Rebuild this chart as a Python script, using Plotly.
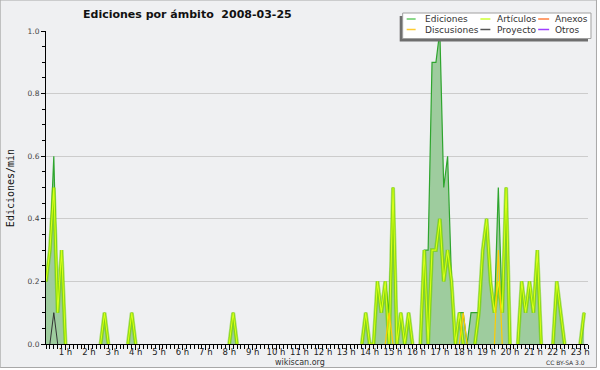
import plotly.graph_objects as go

# ---- data: 10-minute bins, bin 1 = 00:10 ... bin 140 = 23:20 (edits per minute)
bin_index = list(range(1, 141))

ediciones = [
    0.2, 0.3, 0.6, 0.1, 0.3,            # 00:10-00:50
    0, 0, 0, 0, 0, 0,                   # 1 h
    0, 0, 0, 0, 0.1, 0,                 # 2 h
    0, 0, 0, 0, 0, 0.1,                 # 3 h
    0, 0, 0, 0, 0, 0,                   # 4 h
    0, 0, 0, 0, 0, 0,                   # 5 h
    0, 0, 0, 0, 0, 0,                   # 6 h
    0, 0, 0, 0, 0, 0,                   # 7 h
    0, 0.1, 0, 0, 0, 0,                 # 8 h
    0, 0, 0, 0, 0, 0,                   # 9 h
    0, 0, 0, 0, 0, 0,                   # 10 h
    0, 0, 0, 0, 0, 0,                   # 11 h
    0, 0, 0, 0, 0, 0,                   # 12 h
    0, 0, 0, 0, 0, 0.1,                 # 13 h
    0, 0, 0.2, 0.1, 0.2, 0.1,           # 14 h
    0.5, 0, 0.1, 0, 0.1, 0,             # 15 h
    0, 0, 0.3, 0.3, 0.9, 0.9,           # 16 h
    1.0, 0.5, 0.6, 0.2, 0, 0.1,         # 17 h
    0.1, 0, 0.1, 0.1, 0.1, 0.3,         # 18 h
    0.4, 0.2, 0.1, 0.5, 0.1, 0.5,       # 19 h
    0, 0, 0, 0.2, 0.1, 0.2,             # 20 h
    0.1, 0.3, 0, 0, 0, 0,               # 21 h
    0.2, 0.1, 0, 0, 0, 0,               # 22 h
    0, 0.1,                             # 23 h
]

articulos = [
    0.2, 0.3, 0.5, 0.1, 0.3,
    0, 0, 0, 0, 0, 0,
    0, 0, 0, 0, 0.1, 0,
    0, 0, 0, 0, 0, 0.1,
    0, 0, 0, 0, 0, 0,
    0, 0, 0, 0, 0, 0,
    0, 0, 0, 0, 0, 0,
    0, 0, 0, 0, 0, 0,
    0, 0.1, 0, 0, 0, 0,
    0, 0, 0, 0, 0, 0,
    0, 0, 0, 0, 0, 0,
    0, 0, 0, 0, 0, 0,
    0, 0, 0, 0, 0, 0,
    0, 0, 0, 0, 0, 0.1,
    0, 0, 0.2, 0.1, 0.2, 0,
    0.5, 0, 0.1, 0, 0.1, 0,
    0, 0, 0.3, 0, 0.3, 0.3,
    0.4, 0.2, 0.3, 0.2, 0, 0.1,
    0, 0, 0, 0, 0.1, 0.3,
    0.4, 0.2, 0.1, 0.2, 0.1, 0.5,
    0, 0, 0, 0.2, 0.1, 0.2,
    0.1, 0.3, 0, 0, 0, 0,
    0.2, 0.1, 0, 0, 0, 0,
    0, 0.1,
]

discusiones = [
    0, 0, 0, 0, 0,
    0, 0, 0, 0, 0, 0,
    0, 0, 0, 0, 0, 0,
    0, 0, 0, 0, 0, 0,
    0, 0, 0, 0, 0, 0,
    0, 0, 0, 0, 0, 0,
    0, 0, 0, 0, 0, 0,
    0, 0, 0, 0, 0, 0,
    0, 0, 0, 0, 0, 0,
    0, 0, 0, 0, 0, 0,
    0, 0, 0, 0, 0, 0,
    0, 0, 0, 0, 0, 0,
    0, 0, 0, 0, 0, 0,
    0, 0, 0, 0, 0, 0,
    0, 0, 0, 0, 0, 0.1,
    0, 0, 0, 0, 0, 0,
    0, 0, 0, 0, 0, 0,
    0, 0, 0, 0, 0, 0,
    0.1, 0, 0, 0, 0, 0,
    0, 0, 0, 0.3, 0, 0,
    0, 0, 0, 0, 0, 0,
    0, 0, 0, 0, 0, 0,
    0, 0, 0, 0, 0, 0,
    0, 0,
]

proyecto = [
    0, 0, 0.1, 0, 0,
] + [0] * 135

anexos = [0] * 140
otros = [0] * 140

hour_ticks = [1, 2, 3, 4, 5, 6, 7, 8, 9, 10, 11, 12, 13, 14, 15, 16, 17, 18, 19, 20, 21, 22, 23]
hour_labels = ["1 h", "2 h", "3 h", "4 h", "5 h", "6 h", "7 h", "8 h", "9 h", "10 h", "11 h", "12 h",
               "13 h", "14 h", "15 h", "16 h", "17 h", "18 h", "19 h", "20 h", "21 h", "22 h", "23 h"]

legend_names = ["Ediciones", "Discusiones", "Artículos", "Proyecto", "Anexos", "Otros"]
legend_colors = ["#66cc66", "#ffcc33", "#ccff33", "#555555", "#ff7f3f", "#9f3fff"]

title_text = "Ediciones por ámbito&nbsp;&nbsp;2008-03-25"

# ---- helpers
hours = [b / 6 for b in bin_index]

def display(vals):
    out = []
    n = len(vals)
    for i, v in enumerate(vals):
        prev0 = i == 0 or vals[i - 1] == 0
        next0 = i == n - 1 or vals[i + 1] == 0
        out.append(None if (v == 0 and prev0 and next0) else v)
    return out

L, R, T, B = 46, 10, 31, 26
W, H = 600, 370
PW, PH = W - L - R, H - T - B

def px(x):
    return (x - L) / PW

def py(y):
    return (H - B - y) / PH

FONT = "DejaVu Sans"

fig = go.Figure()

fig.add_trace(go.Scatter(
    x=hours, y=display(ediciones), mode="lines", fill="tozeroy",
    line=dict(color="#2ea52e", width=1.2), fillcolor="rgb(158,204,158)",
    name="Ediciones", showlegend=False, hoverinfo="skip"))
fig.add_trace(go.Scatter(
    x=hours, y=display(articulos), mode="lines",
    line=dict(color="rgba(110,205,0,0.55)", width=4),
    name="Artículos", showlegend=False, hoverinfo="skip"))
fig.add_trace(go.Scatter(
    x=hours, y=display(articulos), mode="lines",
    line=dict(color="rgba(130,215,0,0.9)", width=2.4),
    name="Artículos", showlegend=False, hoverinfo="skip"))
fig.add_trace(go.Scatter(
    x=hours, y=display(articulos), mode="lines",
    line=dict(color="#d8ff1a", width=1.1),
    name="Artículos", showlegend=False, hoverinfo="skip"))
fig.add_trace(go.Scatter(
    x=hours, y=display(discusiones), mode="lines",
    line=dict(color="#ffcc00", width=1.2),
    name="Discusiones", showlegend=False, hoverinfo="skip"))
fig.add_trace(go.Scatter(
    x=hours, y=display(anexos), mode="lines",
    line=dict(color="#ff7f3f", width=1),
    name="Anexos", showlegend=False, hoverinfo="skip"))
fig.add_trace(go.Scatter(
    x=hours, y=display(otros), mode="lines",
    line=dict(color="#9f3fff", width=1),
    name="Otros", showlegend=False, hoverinfo="skip"))
fig.add_trace(go.Scatter(
    x=hours, y=display(proyecto), mode="lines",
    line=dict(color="#333333", width=1),
    name="Proyecto", showlegend=False, hoverinfo="skip"))

shapes = []
# outer frame
shapes.append(dict(type="rect", xref="paper", yref="paper", layer="below",
                   x0=px(0), x1=px(598.5), y0=py(367.5), y1=py(0),
                   fillcolor="#eff0f2", line=dict(color="#a8a8a8", width=1)))
# legend shadow and box
shapes.append(dict(type="rect", xref="paper", yref="paper", layer="above",
                   x0=px(401), x1=px(590), y0=py(41.5), y1=py(16),
                   fillcolor="#6e6e6e", line=dict(width=0)))
shapes.append(dict(type="rect", xref="paper", yref="paper", layer="above",
                   x0=px(404), x1=px(593), y0=py(38.5), y1=py(13),
                   fillcolor="#ffffff", line=dict(color="#a0a0a0", width=1)))

annotations = []
col_line = [(408, 417), (482, 492), (540, 551)]
col_text = [424, 497, 555]
row_y = [19, 29.5]
for k, (name, color) in enumerate(zip(legend_names, legend_colors)):
    c, r = k // 2, k % 2
    x0, x1 = col_line[c]
    shapes.append(dict(type="line", xref="paper", yref="paper", layer="above",
                       x0=px(x0), x1=px(x1), y0=py(row_y[r]), y1=py(row_y[r]),
                       line=dict(color=color, width=1.5)))
    annotations.append(dict(xref="paper", yref="paper", x=px(col_text[c]), y=py(row_y[r]),
                            text=name, showarrow=False, xanchor="left", yanchor="middle",
                            font=dict(family=FONT, size=9, color="#333333")))

annotations.append(dict(xref="paper", yref="paper", x=px(188), y=py(14), text=title_text,
                        showarrow=False, xanchor="center", yanchor="middle",
                        font=dict(family=FONT, size=11, color="#111111", weight="bold")))
annotations.append(dict(xref="paper", yref="paper", x=px(10), y=py(188), text="Ediciones/min",
                        showarrow=False, textangle=-90, xanchor="center", yanchor="middle",
                        font=dict(family="DejaVu Sans Mono", size=10, color="#111111")))
annotations.append(dict(xref="paper", yref="paper", x=px(301), y=py(362), text="wikiscan.org",
                        showarrow=False, xanchor="center", yanchor="middle",
                        font=dict(family=FONT, size=8, color="#333333")))
annotations.append(dict(xref="paper", yref="paper", x=px(589), y=py(362), text="CC BY-SA 3.0",
                        showarrow=False, xanchor="right", yanchor="middle",
                        font=dict(family=FONT, size=6, color="#333333")))

fig.update_layout(
    width=W, height=H, margin=dict(l=L, r=R, t=T, b=B),
    paper_bgcolor="#ffffff", plot_bgcolor="#eff0f2",
    showlegend=False, shapes=shapes, annotations=annotations,
    xaxis=dict(range=[1 / 6, 140 / 6], tickvals=hour_ticks, ticktext=hour_labels,
               showgrid=False, zeroline=False, showline=True, linecolor="#000000", linewidth=1,
               ticks="outside", ticklen=5, tickcolor="#000000", tickwidth=1,
               tickfont=dict(family=FONT, size=8.5, color="#222222"), ticklabelstandoff=-5,
               minor=dict(dtick=1 / 6, tick0=0, ticks="outside", ticklen=4,
                          tickcolor="#000000", showgrid=False),
               fixedrange=True),
    yaxis=dict(range=[0, 1], tickvals=[0, 0.2, 0.4, 0.6, 0.8, 1.0], tickformat=".1f",
               showgrid=True, gridcolor="#cccccc", gridwidth=1, zeroline=False,
               showline=True, linecolor="#000000", linewidth=1,
               ticks="outside", ticklen=4, tickcolor="#000000", tickwidth=1,
               tickfont=dict(family=FONT, size=7.5, color="#444444"),
               minor=dict(dtick=0.05, ticks="outside", ticklen=3, tickcolor="#000000",
                          showgrid=False),
               fixedrange=True),
)

fig.write_html("out.html", config={"displayModeBar": False},
               post_script="document.body.style.margin='0';document.body.style.overflow='hidden';")
